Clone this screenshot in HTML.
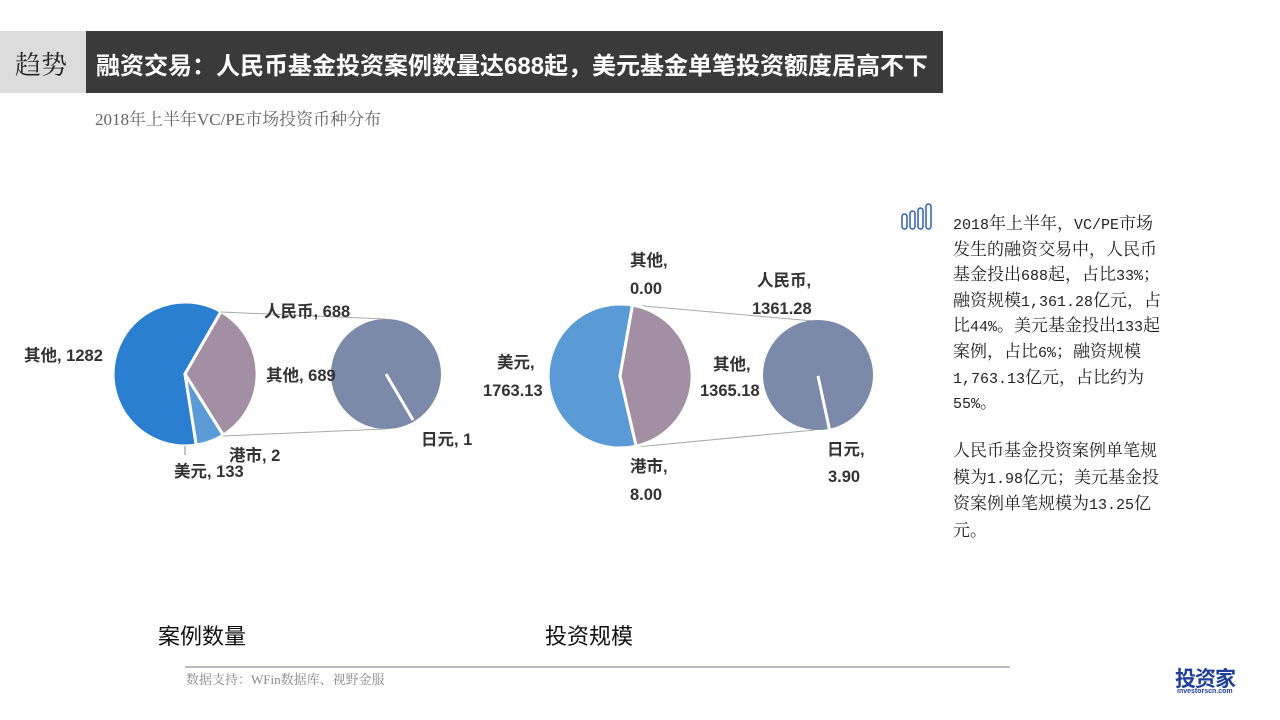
<!DOCTYPE html>
<html><head><meta charset="utf-8"><style>
body{margin:0;width:1280px;height:720px;background:#fff;overflow:hidden;font-family:"Liberation Sans","Noto Sans CJK SC",sans-serif;position:relative}
.a{position:absolute;white-space:nowrap}
.serif{font-family:"Liberation Serif","Noto Serif CJK SC",serif}
.m{font-family:"Liberation Mono",monospace;font-size:15px;line-height:10px}
.p div{height:25.6px;line-height:25.6px;overflow:visible}
.q div{height:26.7px;line-height:26.7px}
</style></head><body>
<div class="a" style="left:0;top:31px;width:86px;height:62px;background:#dcdcdc"></div>
<div class="a serif" style="left:15px;top:45px;font-size:26px;color:#222">趋势</div>
<div class="a" style="left:86px;top:31px;width:857px;height:62px;background:#3a3a3a"></div>
<div class="a" style="left:96px;top:46px;font-size:24px;font-weight:bold;color:#fff">融资交易：人民币基金投资案例数量达688起，美元基金单笔投资额度居高不下</div>
<div class="a serif" style="left:95px;top:105px;font-size:17px;color:#666">2018年上半年VC/PE市场投资币种分布</div>

<svg class="a" style="left:0;top:0" width="1280" height="720">
<g stroke="#fff" stroke-width="3">
<path d="M185,374 L196.3,445.1 A72,72 0 1 1 221,311.6 Z" fill="#2b7fd1"/>
<path d="M185,374 L221,311.6 A72,72 0 0 1 223.2,435.1 Z" fill="#a28fa3"/>
<path d="M185,374 L223.2,435.1 A72,72 0 0 1 196.3,445.1 Z" fill="#5b9bd5"/>
</g>
<circle cx="386" cy="374" r="55" fill="#7b8aa8"/>
<line x1="386" y1="374" x2="413" y2="420" stroke="#fff" stroke-width="3"/>
<g stroke="#aaa" stroke-width="1">
<line x1="221" y1="312" x2="386" y2="319"/>
<line x1="223" y1="436" x2="386" y2="429"/>
<line x1="632" y1="305" x2="825" y2="322"/>
<line x1="636" y1="447" x2="815" y2="430"/>
<line x1="185" y1="446" x2="185" y2="455" stroke="#888"/>
</g>
<g stroke="#fff" stroke-width="3">
<path d="M620,376 L636.2,446.2 A72,72 0 1 1 632.5,305.1 Z" fill="#5b9bd5"/>
<path d="M620,376 L632.5,305.1 A72,72 0 0 1 636.2,446.2 Z" fill="#a28fa3"/>
</g>
<circle cx="818" cy="375" r="55" fill="#7b8aa8"/>
<line x1="818" y1="376" x2="830" y2="432" stroke="#fff" stroke-width="3"/>
<g font-family="Liberation Sans,Noto Sans CJK SC,sans-serif" font-size="16.5" font-weight="bold" fill="#333">
<text x="24" y="361">其他, 1282</text>
<text x="264" y="317">人民币, 688</text>
<text x="266" y="381">其他, 689</text>
<text x="229" y="461">港市, 2</text>
<text x="174" y="477">美元, 133</text>
<text x="421" y="445">日元, 1</text>
<text x="630" y="266" >其他,</text>
<text x="630" y="294">0.00</text>
<text x="757" y="286">人民币,</text>
<text x="752" y="314">1361.28</text>
<text x="497" y="368">美元,</text>
<text x="483" y="396">1763.13</text>
<text x="713" y="370">其他,</text>
<text x="700" y="396">1365.18</text>
<text x="630" y="472">港市,</text>
<text x="630" y="500">8.00</text>
<text x="827" y="455">日元,</text>
<text x="828" y="482">3.90</text>
</g>
<g fill="none" stroke="#2e5fb0" stroke-width="1.5">
<rect x="902" y="214" width="5" height="15" rx="2.5"/>
<rect x="910" y="211" width="5" height="18" rx="2.5"/>
<rect x="918" y="208" width="5" height="21" rx="2.5"/>
<rect x="926" y="204" width="5" height="25" rx="2.5"/>
</g>
<line x1="185" y1="667" x2="1010" y2="667" stroke="#aaa0b0" stroke-width="1.5"/>
</svg>

<div class="a p" style="left:953px;top:209px;font-size:17px;color:#222;font-family:'Noto Serif CJK SC',serif">
<div><span class="m">2018</span>年上半年，<span class="m">VC/PE</span>市场</div>
<div>发生的融资交易中，人民币</div>
<div>基金投出<span class="m">688</span>起，占比<span class="m">33%</span>；</div>
<div>融资规模<span class="m">1,361.28</span>亿元，占</div>
<div>比<span class="m">44%</span>。美元基金投出<span class="m">133</span>起</div>
<div>案例，占比<span class="m">6%</span>；融资规模</div>
<div><span class="m">1,763.13</span>亿元，占比约为</div>
<div><span class="m">55%</span>。</div>
</div>
<div class="a q" style="left:953px;top:436px;font-size:17px;color:#222;font-family:'Noto Serif CJK SC',serif">
<div>人民币基金投资案例单笔规</div>
<div>模为<span class="m">1.98</span>亿元；美元基金投</div>
<div>资案例单笔规模为<span class="m">13.25</span>亿</div>
<div>元。</div>
</div>

<div class="a" style="left:158px;top:619px;font-size:22px;color:#111">案例数量</div>
<div class="a" style="left:545px;top:619px;font-size:22px;color:#111">投资规模</div>
<div class="a serif" style="left:186px;top:669px;font-size:13px;color:#888">数据支持：WFin数据库、视野金服</div>
<div class="a" style="left:1175px;top:663px;font-size:21px;font-weight:bold;color:#1f3f9a;letter-spacing:-1px">投资家</div>
<div class="a" style="left:1177px;top:688px;font-size:7px;font-weight:bold;color:#1f3f9a">investorscn.com</div>
</body></html>
